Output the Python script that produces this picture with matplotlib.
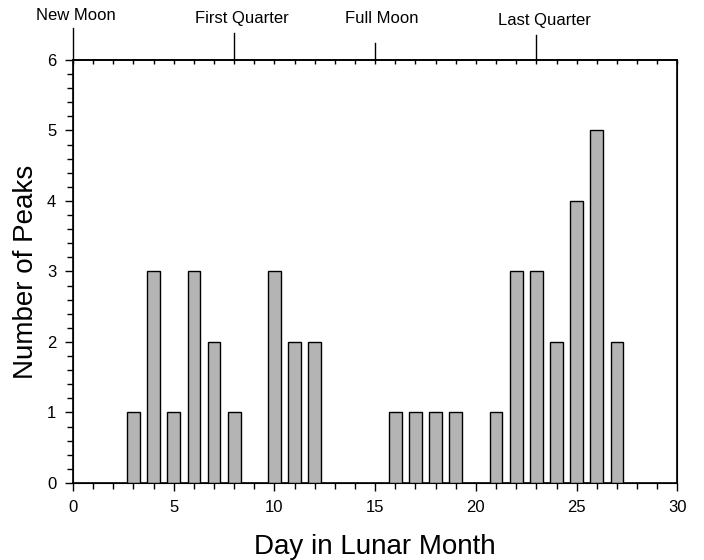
import matplotlib
matplotlib.use('Agg')
import matplotlib.pyplot as plt
import matplotlib.transforms as mtransforms
from matplotlib.ticker import MultipleLocator

plt.rcParams['font.family'] = ['Liberation Sans', 'DejaVu Sans']

# data
days = [3, 4, 5, 6, 7, 8, 10, 11, 12, 16, 17, 18, 19, 21, 22, 23, 24, 25, 26, 27]
peaks = [1, 3, 1, 3, 2, 1, 3, 2, 2, 1, 1, 1, 1, 1, 3, 3, 2, 4, 5, 2]

phase_names = ['New Moon', 'First Quarter', 'Full Moon', 'Last Quarter']
phase_days = [0, 8, 15, 23]

fig = plt.figure(figsize=(7.04, 5.6), dpi=100)
ax = fig.add_axes([0.1037, 0.1375, 0.8585, 0.7555])

ax.bar(days, peaks, width=0.63, color='#b4b4b4', edgecolor='black', linewidth=1.0, zorder=3)

ax.set_xlim(0, 30)
ax.set_ylim(0, 6)
ax.xaxis.set_major_locator(MultipleLocator(5))
ax.xaxis.set_minor_locator(MultipleLocator(1))
ax.yaxis.set_major_locator(MultipleLocator(1))
ax.yaxis.set_minor_locator(MultipleLocator(0.2))
ax.tick_params(which='major', direction='out', length=6, width=1, labelsize=12, pad=6)
ax.tick_params(which='minor', direction='out', length=4, width=1)
for sp in ax.spines.values():
    sp.set_linewidth(1.2)

# top axis: small inward ticks every day
top = ax.twiny()
top.set_xlim(0, 30)
top.xaxis.set_major_locator(MultipleLocator(1))
top.tick_params(axis='x', direction='in', length=3, width=1, labeltop=False)
top.spines['top'].set_linewidth(1.2)

ax.set_xlabel('Day in Lunar Month', fontsize=20, labelpad=14)
ax.set_ylabel('Number of Peaks', fontsize=20, labelpad=6)

# moon phase markers above the top axis
trans = mtransforms.blended_transform_factory(ax.transData, ax.transAxes)
tick_tops = [1.076, 1.064, 1.040, 1.059]
label_x = [0.15, 8.4, 15.32, 23.38]
label_y = [1.104, 1.097, 1.097, 1.092]
for name, d, tt, lx, ly in zip(phase_names, phase_days, tick_tops, label_x, label_y):
    ax.plot([d, d], [1.0, tt], color='black', lw=1, transform=trans, clip_on=False)
    ax.text(lx, ly, name, transform=trans, ha='center', va='center', fontsize=12)

plt.savefig('out.png', dpi=100)
